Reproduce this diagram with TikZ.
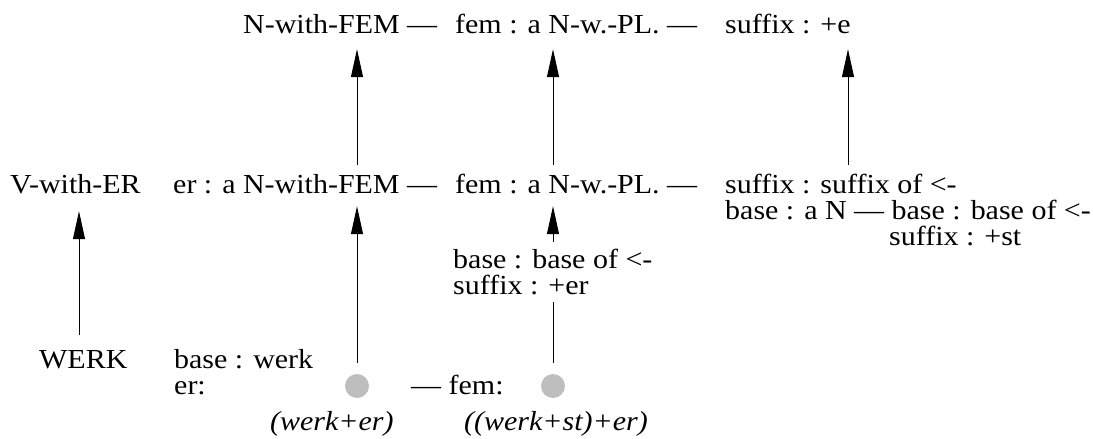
\documentclass[tikz,border=0pt]{standalone}
\usepackage{fontspec}
\setmainfont{Liberation Serif}[FakeStretch=1.09]
\usetikzlibrary{arrows.meta}
\definecolor{dotgray}{RGB}{190,190,190}
\begin{document}
\begin{tikzpicture}[x=1pt,y=-1pt,
  txt/.style={anchor=base west,inner sep=0pt,text height=18pt,text depth=5pt,font=\fontsize{27.5}{27.5}\selectfont},
  itx/.style={txt,font=\fontsize{27.5}{27.5}\selectfont\itshape},
  arr/.style={-{Triangle[width=12pt,length=28pt]},line width=1pt},
  ln/.style={line width=1pt},
  dot/.style={circle,fill=dotgray,minimum size=24pt,inner sep=0pt}]
\useasboundingbox (0,0) rectangle (1093,439);
% row 1
\node[txt] (t1a) at (243,34) {N-with-FEM —};
\node[txt] (t1b) at (455,34) {fem : a N-w.-PL. —};
\node[txt] (t1c) at (725,34) {suffix : +e};
% row 2
\node[txt] (vER) at (10,193) {V-with-ER};
\node[txt] (t2a) at (173,193) {er : a N-with-FEM —};
\node[txt] (t2b) at (455,193) {fem : a N-w.-PL. —};
\node[txt] (t2c) at (725,193) {suffix : suffix of <-};
\node[txt] (t2d) at (725,219) {base : a N — base : base of <-};
\node[txt] (t2e) at (889,245) {suffix : +st};
% middle
\node[txt] (bb) at (453,268) {base : base of <-};
\node[txt] (se) at (453,294) {suffix : +er};
% bottom
\node[txt] (werk) at (39,368) {WERK};
\node[txt] (bw) at (174,368) {base : werk};
\node[txt] (er) at (174,394) {er:};
\node[dot] (c1) at (357,386) {};
\node[txt] (fem) at (411,394) {— fem:};
\node[dot] (c2) at (553,386) {};
\node[itx] (w1) at (270,430) {(werk+er)};
\node[itx] (w2) at (464,430) {((werk+st)+er)};
% x positions of the right and left arrows
\coordinate (x3) at (848,0);
\coordinate (xv) at (79,0);
% arrows
\draw[arr,shorten <=10pt,shorten >=10pt] (c1 |- t2a.north) -- (c1 |- t1a.south);
\draw[arr,shorten <=10pt,shorten >=10pt] (c2 |- t2b.north) -- (c2 |- t1b.south);
\draw[arr,shorten <=10pt,shorten >=10pt] (x3 |- t2c.north) -- (x3 |- t1c.south);
\draw[arr,shorten <=11pt,shorten >=8pt] (c1) -- (c1 |- t2a.south);
\draw[ln,shorten <=11pt,shorten >=3pt] (c2) -- (c2 |- se.south);
\draw[arr,shorten <=8pt,shorten >=8pt] (c2 |- bb.north) -- (c2 |- t2b.south);
\draw[arr,shorten <=15pt,shorten >=13pt] (xv |- werk.north) -- (xv |- vER.south);
\end{tikzpicture}
\end{document}
